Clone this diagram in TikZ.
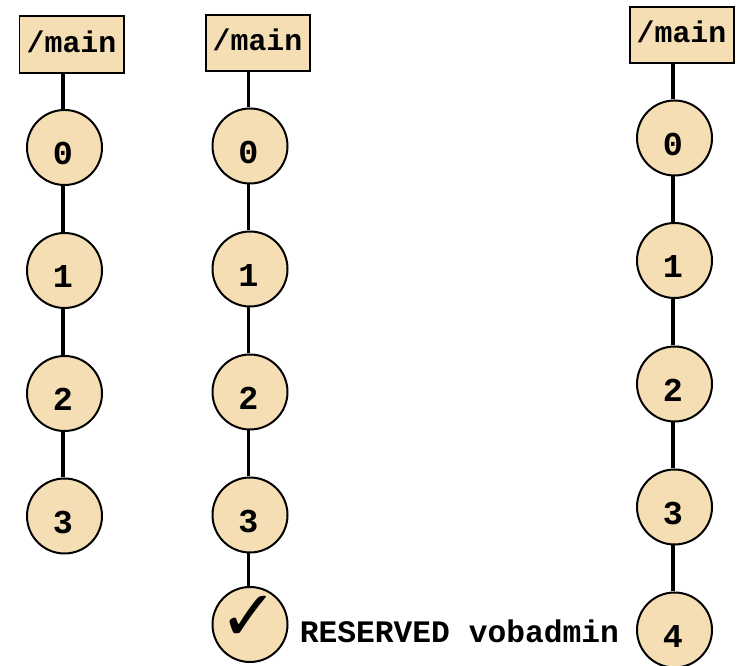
\documentclass[tikz,border=0pt]{standalone}
\usepackage{fontspec}
\setmonofont{Liberation Mono}
\newfontfamily\checkfont{DejaVu Sans}
\definecolor{nodefill}{HTML}{F5DEB3}
\tikzset{
  branchbox/.style={draw=black,fill=nodefill,line width=0.04cm,minimum width=2.08cm,minimum height=1.13cm,inner sep=0pt,text height=0.32cm,text depth=0cm,font=\ttfamily\bfseries\fontsize{17}{20}\selectfont},
  version/.style={circle,draw=black,fill=nodefill,line width=0.04cm,minimum size=1.5cm,inner sep=0pt,text height=0.70cm,text depth=0cm,execute at begin node={\kern-0.06cm},font=\ttfamily\bfseries\fontsize{19}{22}\selectfont},
  link/.style={black,line width=0.07cm},
  tag/.style={inner sep=0pt,font=\ttfamily\bfseries\fontsize{17.8}{20}\selectfont}
}
\begin{document}
\begin{tikzpicture}
\useasboundingbox (0cm,0cm) rectangle (14.82cm,13.32cm);
\node[branchbox] (m1) at (1.43cm,12.43cm) {/main};
\node[version] (a0) at (1.29cm,10.37cm) {0};
\node[version] (a1) at (1.29cm,7.91cm) {1};
\node[version] (a2) at (1.29cm,5.45cm) {2};
\node[version] (a3) at (1.29cm,3.00cm) {3};
\node[branchbox] (m2) at (5.15cm,12.46cm) {/main};
\node[version] (b0) at (5.00cm,10.40cm) {0};
\node[version] (b1) at (5.00cm,7.94cm) {1};
\node[version] (b2) at (5.00cm,5.48cm) {2};
\node[version] (b3) at (5.00cm,3.02cm) {3};
\node[version,text height=0.64cm] (b4) at (5.00cm,0.83cm) {\checkfont\bfseries\fontsize{40}{42}\selectfont ✓};
\node[branchbox] (m3) at (13.63cm,12.62cm) {/main};
\node[version] (c0) at (13.49cm,10.56cm) {0};
\node[version] (c1) at (13.49cm,8.11cm) {1};
\node[version] (c2) at (13.49cm,5.64cm) {2};
\node[version] (c3) at (13.49cm,3.18cm) {3};
\node[version] (c4) at (13.49cm,0.72cm) {4};
\node[tag,right] (res) at (5.99cm,0.70cm) {RESERVED vobadmin};
\draw[link] ([xshift=-0.03cm]m1.south -| a0.north) -- ([xshift=-0.03cm]a0.north);
\draw[link] ([xshift=-0.03cm]a0.south) -- ([xshift=-0.03cm]a1.north);
\draw[link] ([xshift=-0.03cm]a1.south) -- ([xshift=-0.03cm]a2.north);
\draw[link] ([xshift=-0.03cm]a2.south) -- ([xshift=-0.03cm]a3.north);
\draw[link] ([xshift=-0.03cm]m2.south -| b0.north) -- ([xshift=-0.03cm]b0.north);
\draw[link] ([xshift=-0.03cm]b0.south) -- ([xshift=-0.03cm]b1.north);
\draw[link] ([xshift=-0.03cm]b1.south) -- ([xshift=-0.03cm]b2.north);
\draw[link] ([xshift=-0.03cm]b2.south) -- ([xshift=-0.03cm]b3.north);
\draw[link] ([xshift=-0.03cm]b3.south) -- ([xshift=-0.03cm]b4.north);
\draw[link] ([xshift=-0.03cm]m3.south -| c0.north) -- ([xshift=-0.03cm]c0.north);
\draw[link] ([xshift=-0.03cm]c0.south) -- ([xshift=-0.03cm]c1.north);
\draw[link] ([xshift=-0.03cm]c1.south) -- ([xshift=-0.03cm]c2.north);
\draw[link] ([xshift=-0.03cm]c2.south) -- ([xshift=-0.03cm]c3.north);
\draw[link] ([xshift=-0.03cm]c3.south) -- ([xshift=-0.03cm]c4.north);
\end{tikzpicture}
\end{document}
